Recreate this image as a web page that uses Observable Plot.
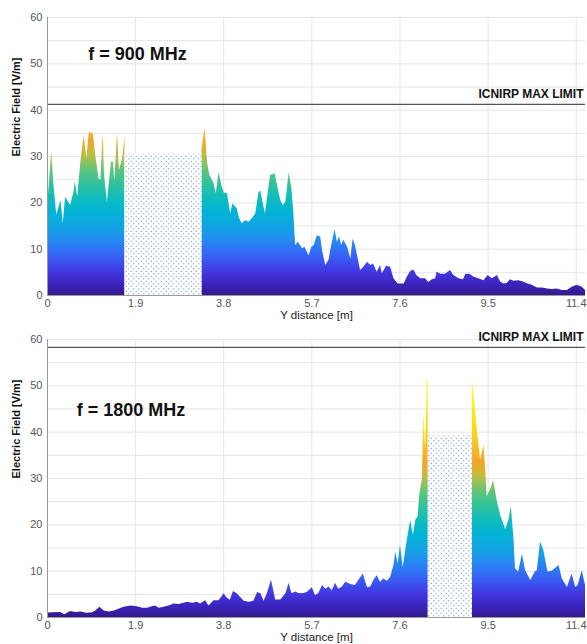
<!DOCTYPE html>
<html>
<head>
<meta charset="utf-8">
<script src="https://cdn.jsdelivr.net/npm/d3@7"></script>
<script src="https://cdn.jsdelivr.net/npm/@observablehq/plot@0.6"></script>
<style>
  html, body { margin: 0; padding: 0; background: #fff; }
  #chart { width: 587px; font-family: "Liberation Sans", Arial, sans-serif; }
  #chart svg { display: block; }
</style>
</head>
<body>
<div id="chart"></div>
<script>
// ---------- data ----------
const xTicks = [0, 1.9, 3.8, 5.7, 7.6, 9.5, 11.4];
const yTicks = [0, 10, 20, 30, 40, 50, 60];
const xLabel = "Y distance [m]";
const yLabel = "Electric Field [V/m]";
const limitLabel = "ICNIRP MAX LIMIT";

// 900 MHz panel
const label900 = "f = 900 MHz";
const limit900 = 41.25;
const hatch900 = {x1: 1.67, x2: 3.33, top: 30.5};
const x900 = [0.0,0.09,0.14,0.20,0.29,0.34,0.39,0.50,0.57,0.60,0.65,0.72,0.79,0.85,0.90,0.99,1.04,1.11,1.15,1.20,1.23,1.29,1.38,1.42,1.45,1.51,1.55,1.62,1.67,
  3.33,3.40,3.45,3.50,3.56,3.59,3.64,3.70,3.76,3.81,3.88,3.95,4.00,4.09,4.14,4.20,4.27,4.34,4.42,4.49,4.56,4.60,4.66,4.70,4.76,4.81,4.91,4.96,5.03,5.08,5.14,5.21,5.27,5.31,5.35,5.41,5.50,5.55,5.64,5.70,5.75,5.82,5.89,5.93,6.00,6.07,6.12,6.20,6.25,6.30,6.34,6.39,6.47,6.54,6.59,6.64,6.70,6.75,6.82,6.90,6.97,7.03,7.11,7.18,7.22,7.31,7.40,7.47,7.56,7.69,7.76,7.83,7.90,7.96,8.05,8.15,8.22,8.30,8.37,8.40,8.48,8.58,8.69,8.76,8.87,8.97,9.02,9.11,9.19,9.30,9.41,9.50,9.59,9.70,9.77,9.84,9.91,9.98,10.06,10.16,10.26,10.36,10.45,10.56,10.67,10.78,10.88,10.99,11.10,11.21,11.31,11.42,11.53,11.60];
const e900 = [18.7,30.9,23.7,17.3,20.5,15.5,21.2,19.4,22.3,24.5,21.2,28.8,34.5,29.5,35.1,34.9,30.2,25.2,24.8,35.1,25.9,20.1,28.8,28.8,24.5,35.1,27.0,29.5,34.2,
  31.7,36.0,28.8,25.9,24.8,24.1,22.0,26.6,23.7,22.1,22.0,17.6,19.8,18.7,16.6,15.5,16.2,15.8,16.6,17.6,22.3,22.5,19.4,17.6,22.3,25.9,26.3,23.7,20.5,19.4,20.1,26.5,23.0,18.0,10.8,11.5,10.1,10.4,8.6,10.4,10.8,12.9,12.6,9.7,6.5,7.6,10.4,14.2,11.5,12.7,10.8,11.9,10.4,7.9,12.2,10.8,7.9,5.4,6.1,7.2,6.5,6.8,5.0,6.5,4.7,6.3,6.1,3.6,2.5,2.5,4.0,5.2,5.5,4.3,3.6,3.6,2.8,3.4,3.6,5.0,4.6,4.6,5.4,4.3,3.6,3.4,4.6,4.6,4.0,3.6,3.2,4.3,3.6,4.3,2.9,2.5,2.6,3.4,3.1,3.2,2.9,2.5,2.2,1.6,1.6,1.4,1.3,1.4,1.1,1.1,1.8,2.2,1.8,1.1];

// 1800 MHz panel
const label1800 = "f = 1800 MHz";
const limit1800 = 58.3;
const hatch1800 = {x1: 8.21, x2: 9.16, top: 39.2};
const x1800 = [0.0,0.14,0.29,0.37,0.50,0.61,0.72,0.85,0.97,1.04,1.13,1.22,1.33,1.44,1.54,1.65,1.80,1.94,2.05,2.16,2.26,2.33,2.41,2.51,2.62,2.73,2.84,2.94,3.02,3.13,3.23,3.30,3.41,3.48,3.59,3.70,3.81,3.86,3.94,4.01,4.09,4.13,4.24,4.35,4.45,4.53,4.60,4.67,4.74,4.83,4.92,5.03,5.14,5.21,5.27,5.35,5.42,5.50,5.60,5.71,5.78,5.85,5.93,6.00,6.07,6.14,6.21,6.28,6.36,6.43,6.54,6.64,6.71,6.81,6.90,6.97,7.04,7.11,7.18,7.25,7.33,7.40,7.47,7.51,7.56,7.61,7.67,7.74,7.83,7.89,7.94,7.99,8.03,8.08,8.12,8.15,8.19,8.21,
  9.16,9.23,9.28,9.34,9.37,9.41,9.45,9.48,9.55,9.62,9.70,9.77,9.88,9.95,10.00,10.06,10.09,10.16,10.24,10.31,10.42,10.52,10.56,10.63,10.70,10.79,10.88,11.03,11.10,11.21,11.31,11.39,11.44,11.53,11.60];
const e1800 = [0.95,1.0,1.1,0.6,1.3,1.1,1.2,0.9,1.0,1.4,2.2,1.4,1.2,1.4,1.8,2.2,2.5,2.3,2.0,2.0,2.3,2.5,2.0,2.2,2.5,2.9,2.8,3.1,3.3,3.1,3.3,2.9,3.6,2.5,3.6,3.6,5.1,4.3,3.7,5.6,5.1,4.7,3.5,3.3,3.5,5.4,5.1,3.5,5.1,8.1,3.8,3.8,5.1,7.4,5.1,5.5,5.2,5.1,5.4,6.4,4.7,5.2,6.9,6.1,6.6,5.8,7.4,6.1,6.6,7.6,7.1,6.9,8.0,9.4,6.4,6.6,8.1,9.0,7.6,8.3,7.8,8.7,11.2,14.1,11.6,15.6,10.8,15.6,21.0,17.7,21.0,21.7,26.8,29.6,44.1,36.2,51.0,51.0,
  51.3,44.8,39.0,34.0,35.4,37.2,31.8,26.0,27.5,29.5,25.0,22.0,19.0,21.0,24.0,16.6,10.5,9.8,13.7,10.1,8.0,9.9,10.1,16.3,14.5,9.8,10.0,11.2,8.3,6.5,9.4,6.5,6.9,10.1,6.9];

// colour ramp (value -> colour), parula-like
const rampValues = [0, 2, 5, 8, 11, 14, 18, 21, 24, 27, 29.5, 31.5, 33.5, 36, 40, 45, 52];
const rampColors = ["#341a8c","#3a22b8","#4236e0","#3a5cf5","#2a80f5","#16a0e6","#02b4d4","#10bcbc","#30c29c","#5fc47a","#a8c050","#d6b434","#f0a828","#f8b820","#f8d818","#f8ee1a","#faff10"];

// ---------- drawing ----------
const NS = "http://www.w3.org/2000/svg";
function el(name, attrs) {
  const e = document.createElementNS(NS, name);
  for (const k in attrs) e.setAttribute(k, attrs[k]);
  return e;
}

function panel(id, xs, es, hatch, limit, freqLabel, freqPos) {
  const data = xs.map((x, i) => ({x, e: es[i], seg: x <= hatch.x1 ? 0 : 1}));
  const gid = "grad-" + id, pid = "dots-" + id;
  const cmax = rampValues[rampValues.length - 1];
  const defsMark = (index, scales) => {
    const defs = el("defs", {});
    const g = el("linearGradient", {id: gid, gradientUnits: "userSpaceOnUse", x1: 0, x2: 0, y1: scales.y(0), y2: scales.y(cmax)});
    rampValues.forEach((v, i) => g.appendChild(el("stop", {offset: v / cmax, "stop-color": rampColors[i]})));
    defs.appendChild(g);
    const p = el("pattern", {id: pid, patternUnits: "userSpaceOnUse", width: 5, height: 5});
    p.appendChild(el("rect", {x: 0, y: 0, width: 5, height: 5, fill: "#fff"}));
    p.appendChild(el("circle", {cx: 1.25, cy: 1.25, r: 0.6, fill: "#3f72c6"}));
    p.appendChild(el("circle", {cx: 3.75, cy: 3.75, r: 0.6, fill: "#3f72c6"}));
    defs.appendChild(p);
    return defs;
  };
  return Plot.plot({
    width: 587, height: 322,
    marginLeft: 47, marginRight: 2, marginTop: 17, marginBottom: 27,
    style: {fontFamily: "'Liberation Sans', Arial, sans-serif", background: "#fff"},
    x: {domain: [0, 11.6]},
    y: {domain: [0, 60]},
    marks: [
      defsMark,
      Plot.gridY(d3.range(0, 61, 5), {stroke: "#e4e4e4", strokeOpacity: 1}),
      Plot.gridX(xTicks, {stroke: "#e4e4e4", strokeOpacity: 1}),
      Plot.areaY(data, {x: "x", y1: 0, y2: "e", z: "seg", fill: `url(#${gid})`}),
      Plot.rect([hatch], {x1: "x1", x2: "x2", y1: 0, y2: "top", fill: `url(#${pid})`}),
      Plot.ruleY([limit], {stroke: "#555", strokeWidth: 1.4}),
      Plot.text([limitLabel], {x: 11.6, y: limit, text: d => d, textAnchor: "end", dx: -2, dy: -10, fontSize: 12, fontWeight: "bold", fill: "#111"}),
      Plot.text([freqLabel], {x: freqPos[0], y: freqPos[1], text: d => d, textAnchor: "start", fontSize: 18, fontWeight: "bold", fill: "#111"}),
      Plot.ruleX([0], {stroke: "#999"}),
      Plot.ruleY([0], {stroke: "#999"}),
      Plot.axisX(xTicks, {tickSize: 0, tickPadding: 4, tickFormat: d => d === 0 ? "0" : d.toFixed(1), fontSize: 11, color: "#555", label: null}),
      Plot.axisY(yTicks, {tickSize: 0, tickPadding: 5, fontSize: 11, color: "#555", label: null}),
      Plot.text([yLabel], {frameAnchor: "left", text: d => d, dx: -31, rotate: -90, fontSize: 11, fontWeight: "bold", fill: "#111"}),
      Plot.text([xLabel], {frameAnchor: "bottom", text: d => d, dy: 23, fontSize: 11.5, fill: "#222"})
    ]
  });
}

const chart = document.getElementById("chart");
chart.appendChild(panel("900", x900, e900, hatch900, limit900, label900, [0.88, 52]));
chart.appendChild(panel("1800", x1800, e1800, hatch1800, limit1800, label1800, [0.63, 44.8]));
</script>
</body>
</html>
